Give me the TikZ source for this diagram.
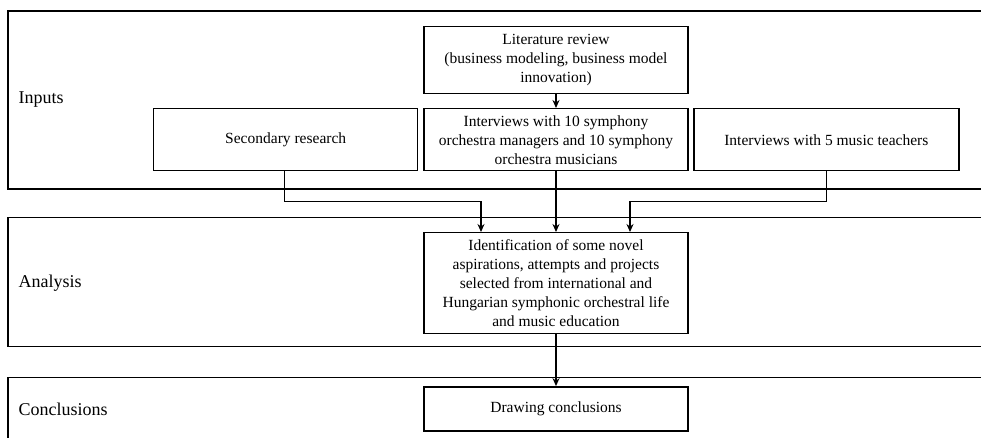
\documentclass[tikz,border=0pt]{standalone}
\usepackage{fontspec}
\setmainfont{Liberation Serif}
\usetikzlibrary{arrows.meta}

\begin{document}
\begin{tikzpicture}[x=1pt,y=-1pt,font=\fontsize{15.5}{19}\selectfont,
  box/.style={draw,line width=1.4pt,minimum width=264pt,align=center,inner sep=0pt},
  panel/.style={draw,line width=1.3pt},
  flow/.style={line width=1.4pt,-{Stealth[length=8pt,width=7pt]}},
  lbl/.style={anchor=west,font=\fontsize{18}{20}\selectfont}]
\useasboundingbox (0,0) rectangle (981,437);
% panels, open to the right
\draw[panel] (981,11) -- (8,11) -- (8,189) -- (981,189);
\draw[panel] (981,217.7) -- (8,217.7) -- (8,346.7) -- (981,346.7);
\draw[panel] (981,377.7) -- (8,377.7) -- (8,440);
\node[lbl] (inputs) at (15,100) {Inputs};
\node[lbl] (analysis) at (15,283) {Analysis};
\node[lbl] (concl) at (15,409) {Conclusions};
% boxes
\node[box,minimum height=67pt] (lit) at (556,59.7) {Literature review\\(business modeling, business model\\innovation)};
\node[box,minimum height=62pt] (intv) at (556,139.7) {Interviews with 10 symphony\\orchestra managers and 10 symphony\\orchestra musicians};
\node[box,minimum height=62pt] (sec) at (285.7,139.7) {Secondary research};
\node[box,minimum height=62pt,minimum width=265pt] (teach) at (826.3,139.7) {Interviews with 5 music teachers};
\node[box,minimum height=100.6pt] (ident) at (556,283) {Identification of some novel\\aspirations, attempts and projects\\selected from international and\\Hungarian symphonic orchestral life\\and music education};
\node[box,minimum height=44pt] (draw) at (556,408.8) {Drawing conclusions};
% connectors
\draw[flow] (lit) -- (intv);
\draw[flow] (intv) -- (ident);
\draw[flow] ([xshift=-1.4pt]sec.south) -- ++(0,30.3) -| ([xshift=-75pt]ident.north);
\draw[flow] ([xshift=0.4pt]teach.south) -- ++(0,30.3) -| ([xshift=74pt]ident.north);
\draw[flow] (ident) -- (draw);
\end{tikzpicture}
\end{document}
